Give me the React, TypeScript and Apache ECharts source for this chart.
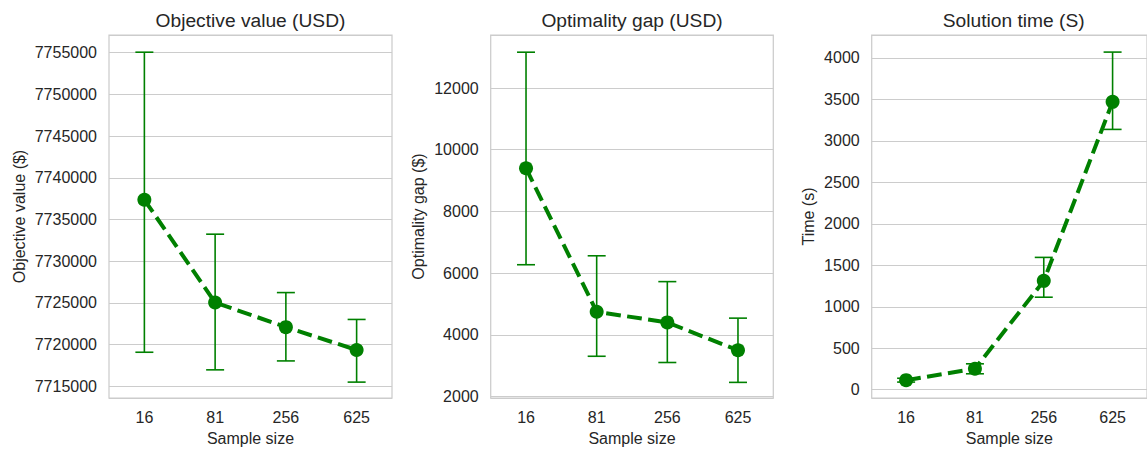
import React, { useEffect, useRef } from "react";
import * as echarts from "echarts";

const categories = ["16", "81", "256", "625"];

const objMean = [7737360, 7725050, 7722100, 7719360];
const objLow = [7719090, 7716980, 7718050, 7715510];
const objHigh = [7755050, 7733240, 7726240, 7723020];

const gapMean = [9400, 4750, 4406, 3505];
const gapLow = [6275, 3310, 3108, 2464];
const gapHigh = [13160, 6565, 5728, 4545];

const timeMean = [115, 252, 1312, 3470];
const timeLow = [92, 192, 1115, 3138];
const timeHigh = [138, 312, 1595, 4070];

const titles = ["Objective value (USD)", "Optimality gap (USD)", "Solution time (S)"];
const yNames = ["Objective value ($)", "Optimality gap ($)", "Time (s)"];
const xName = "Sample size";

const GREEN = "#008000";
const TEXT = "#262626";
const GRIDC = "#cccccc";
const FONT = "'Liberation Sans', Arial, sans-serif";

export default function App() {
  const ref = useRef<HTMLDivElement>(null);
  useEffect(() => {
    if (!ref.current) return;
    const chart = echarts.init(ref.current, null, { renderer: "svg" });
    const W = 1147;
    const H = 451;
    const panels = [
      { left: 109, right: 392, min: 7713606, max: 7757110, step: 5000, nameGap: 82 },
      { left: 490.7, right: 773.3, min: 1958, max: 13717, step: 2000, nameGap: 64 },
      { left: 871.7, right: 1155.7, min: -100, max: 4276, step: 500, nameGap: 55 },
    ];
    const means = [objMean, gapMean, timeMean];
    const lows = [objLow, gapLow, timeLow];
    const highs = [objHigh, gapHigh, timeHigh];
    const top = 35;
    const bottom = 400;

    const grids = panels.map((p) => ({
      left: p.left,
      right: W - p.right,
      top,
      bottom: H - bottom,
      show: true,
      borderColor: GRIDC,
      borderWidth: 1.25,
      backgroundColor: "#ffffff",
    }));

    const xAxes = panels.map((p, i) => ({
      type: "category",
      gridIndex: i,
      data: categories,
      boundaryGap: true,
      axisLine: { show: false },
      axisTick: { show: false },
      axisLabel: { color: TEXT, fontSize: 16, fontFamily: FONT, margin: 11 },
      name: xName,
      nameLocation: "middle",
      nameGap: 32,
      nameTextStyle: { color: TEXT, fontSize: 16, fontFamily: FONT },
      splitLine: { show: false },
    }));

    const yAxes = panels.map((p, i) => ({
      type: "value",
      gridIndex: i,
      min: p.min,
      max: p.max,
      minInterval: p.step,
      maxInterval: p.step,
      splitNumber: 8,
      axisLine: { show: false },
      axisTick: { show: false },
      axisLabel: {
        color: TEXT,
        fontSize: 16,
        fontFamily: FONT,
        margin: 12,
        showMinLabel: false,
        showMaxLabel: false,
        formatter: (v: number) => String(Math.round(v)),
      },
      splitLine: { show: true, lineStyle: { color: GRIDC, width: 1.2 } },
      name: yNames[i],
      nameLocation: "middle",
      nameGap: p.nameGap,
      nameTextStyle: { color: TEXT, fontSize: 16, fontFamily: FONT },
    }));

    const series: any[] = [];
    panels.forEach((p, i) => {
      series.push({
        type: "custom",
        xAxisIndex: i,
        yAxisIndex: i,
        z: 1,
        data: categories.map((_, k) => [k, lows[i][k], highs[i][k]]),
        renderItem: (params: any, api: any) => {
          const x = api.value(0);
          const lo = api.coord([x, api.value(1)]);
          const hi = api.coord([x, api.value(2)]);
          const cap = 9;
          const style = { stroke: GREEN, lineWidth: 1.6 };
          return {
            type: "group",
            children: [
              { type: "line", shape: { x1: lo[0], y1: lo[1], x2: hi[0], y2: hi[1] }, style },
              { type: "line", shape: { x1: hi[0] - cap, y1: hi[1], x2: hi[0] + cap, y2: hi[1] }, style },
              { type: "line", shape: { x1: lo[0] - cap, y1: lo[1], x2: lo[0] + cap, y2: lo[1] }, style },
            ],
          };
        },
      });
      series.push({
        type: "line",
        xAxisIndex: i,
        yAxisIndex: i,
        z: 2,
        data: means[i],
        symbol: "circle",
        symbolSize: 14,
        itemStyle: { color: GREEN },
        lineStyle: { color: GREEN, width: 4, type: [14.8, 6.4] },
      });
    });

    const graphic = panels.map((p, i) => ({
      type: "text",
      x: (p.left + p.right) / 2,
      y: 20,
      style: {
        text: titles[i],
        fill: TEXT,
        font: `19.2px ${FONT}`,
        textAlign: "center",
        textVerticalAlign: "middle",
      },
    }));

    chart.setOption({
      animation: false,
      backgroundColor: "#ffffff",
      grid: grids,
      xAxis: xAxes,
      yAxis: yAxes,
      series,
      graphic,
    });
    return () => chart.dispose();
  }, []);
  return (
    <div
      ref={ref}
      style={{ position: "fixed", left: 0, top: 0, width: 1147, height: 451 }}
    />
  );
}
